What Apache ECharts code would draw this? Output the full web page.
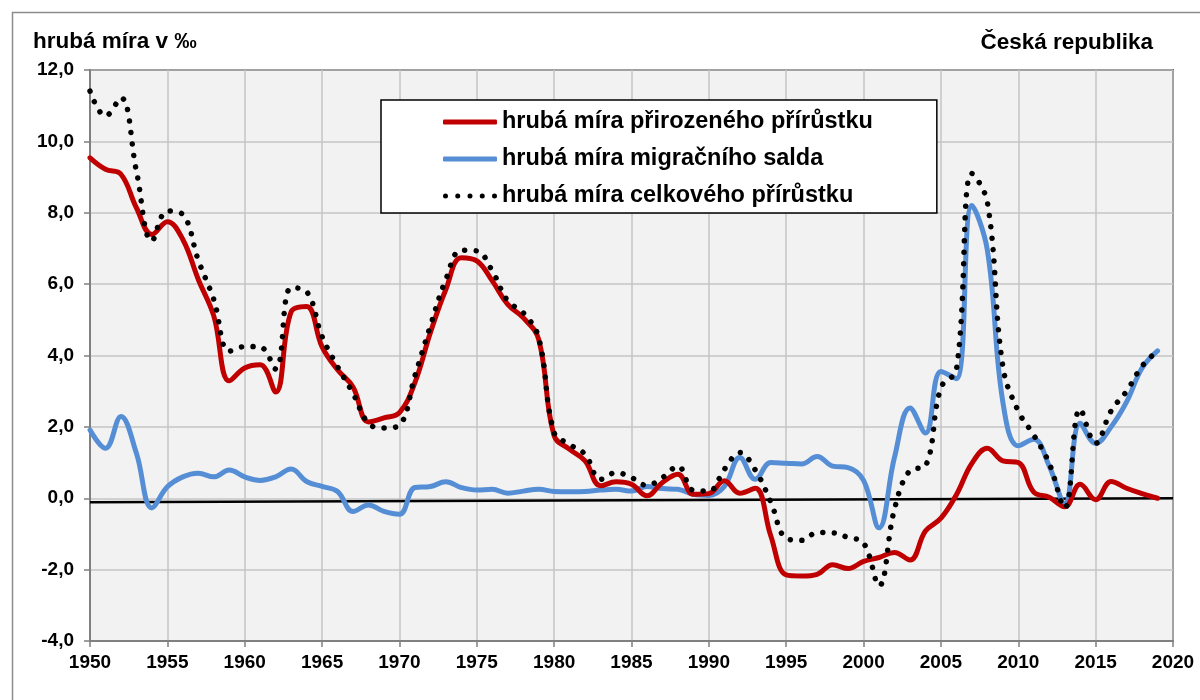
<!DOCTYPE html>
<html>
<head>
<meta charset="utf-8">
<script src="https://cdn.jsdelivr.net/npm/echarts@6/dist/echarts.min.js"></script>
<style>
  html, body { margin: 0; padding: 0; background: #fff; }
  #chart { width: 1200px; height: 700px; }
</style>
</head>
<body>
<div id="chart"></div>
<script>
// roky 1950 - 2019
var firstYear = 1950;

var natural = [
  9.54, 9.22, 9.08, 8.14, 7.39, 7.75, 7.25, 6.13, 5.11, 3.29,
  3.65, 3.74, 2.98, 5.22, 5.37, 4.24, 3.60, 3.12, 2.14, 2.25,
  2.40, 3.24, 4.64, 5.85, 6.74, 6.65, 6.09, 5.43, 5.06, 4.45,
  1.75, 1.37, 1.05, 0.35, 0.46, 0.39, 0.07, 0.44, 0.67, 0.11,
  0.13, 0.49, 0.14, 0.28, -1.05, -2.15, -2.18, -2.13, -1.86, -1.97,
  -1.77, -1.66, -1.52, -1.73, -0.92, -0.56, 0.10, 0.98, 1.40, 1.05,
  1.00, 0.17, 0.03, -0.24, 0.39, -0.04, 0.47, 0.28, 0.13, 0.00
];

var migration = [
  1.91, 1.40, 2.29, 1.26, -0.27, 0.32, 0.60, 0.70, 0.60, 0.79,
  0.60, 0.50, 0.60, 0.82, 0.47, 0.33, 0.19, -0.37, -0.19, -0.37,
  -0.45, 0.30, 0.33, 0.46, 0.30, 0.23, 0.25, 0.14, 0.20, 0.25,
  0.19, 0.18, 0.19, 0.23, 0.25, 0.20, 0.33, 0.27, 0.25, 0.11,
  0.08, 0.33, 1.14, 0.53, 1.00, 0.98, 0.96, 1.17, 0.90, 0.86,
  0.50, -0.83, 1.15, 2.53, 1.83, 3.55, 3.35, 8.20, 6.95, 2.70,
  1.47, 1.65, 0.90, -0.15, 2.10, 1.54, 2.00, 2.70, 3.65, 4.13
];

var total = [
  11.41, 10.71, 11.22, 9.17, 7.21, 8.05, 7.95, 6.67, 5.57, 4.12,
  4.25, 4.24, 3.62, 5.90, 5.79, 4.53, 3.69, 2.94, 2.10, 1.97,
  2.05, 3.43, 4.83, 6.13, 6.95, 6.93, 6.37, 5.53, 5.20, 4.50,
  1.84, 1.51, 1.23, 0.53, 0.72, 0.58, 0.36, 0.58, 0.90, 0.22,
  0.20, 0.81, 1.28, 0.79, -0.10, -1.12, -1.18, -0.96, -0.97, -1.10,
  -1.25, -2.45, -0.30, 0.78, 0.90, 3.10, 3.60, 9.10, 8.30, 3.70,
  2.44, 1.77, 0.98, -0.27, 2.50, 1.54, 2.45, 3.00, 3.70, 4.13
];

// černá čára u nuly (mírně skloněná jako v originálu)
var baseLine = [[1950, -0.11], [2020, 0]];

var seriesNames = [
  'hrubá míra přirozeného přírůstku',
  'hrubá míra migračního salda',
  'hrubá míra celkového přírůstku'
];

var font = "'Liberation Sans', Arial, sans-serif";

// ikona tečkované čáry v legendě (5 teček)
var dotsIcon = 'path://M0,2.5a2.5,2.5 0 1,0 5,0a2.5,2.5 0 1,0 -5,0' +
  'M12.25,2.5a2.5,2.5 0 1,0 5,0a2.5,2.5 0 1,0 -5,0' +
  'M24.5,2.5a2.5,2.5 0 1,0 5,0a2.5,2.5 0 1,0 -5,0' +
  'M36.75,2.5a2.5,2.5 0 1,0 5,0a2.5,2.5 0 1,0 -5,0' +
  'M49,2.5a2.5,2.5 0 1,0 5,0a2.5,2.5 0 1,0 -5,0';

function withYears(values) {
  return values.map(function (v, i) {
    return [firstYear + i, v];
  });
}

var chart = echarts.init(document.getElementById('chart'), null, { renderer: 'canvas' });

var option = {
  animation: false,
  backgroundColor: '#fff',
  textStyle: { fontFamily: font, color: '#000' },
  graphic: [
    {
      type: 'rect', silent: true, z: -10,
      shape: { x: 12.5, y: 12.5, width: 1200, height: 720 },
      style: { fill: 'none', stroke: '#8c8c8c', lineWidth: 1.5 }
    },
    {
      type: 'text', left: 33, top: 30,
      style: { text: 'hrubá míra v ‰', font: 'bold 22.5px ' + font, fill: '#000' }
    },
    {
      type: 'text', right: 47, top: 31,
      style: { text: 'Česká republika', font: 'bold 22.5px ' + font, fill: '#000' }
    }
  ],
  grid: {
    left: 90, right: 27, top: 70, bottom: 59,
    show: true,
    backgroundColor: '#f2f2f2',
    borderColor: '#000',
    borderWidth: 1.5
  },
  legend: {
    data: [
      { name: seriesNames[0], icon: 'roundRect' },
      { name: seriesNames[1], icon: 'roundRect' },
      { name: seriesNames[2], icon: dotsIcon }
    ],
    orient: 'vertical',
    left: 381, top: 100,
    padding: [10, 64, 5, 62],
    itemWidth: 54, itemHeight: 5, itemGap: 13,
    backgroundColor: '#fff',
    borderColor: '#000',
    borderWidth: 1.5,
    textStyle: {
      fontSize: 23.5, lineHeight: 23, fontWeight: 'bold', color: '#000', fontFamily: font,
      padding: [0, 0, 0, 0]
    }
  },
  xAxis: {
    type: 'value',
    min: 1950, max: 2020, interval: 5,
    axisLine: { onZero: false, lineStyle: { color: '#808080', width: 2 } },
    axisTick: { show: true, length: 6, lineStyle: { color: '#808080', width: 1.5 } },
    axisLabel: {
      margin: 12, fontSize: 19, fontWeight: 'bold', color: '#000', fontFamily: font,
      formatter: function (v) { return String(v); }
    },
    splitLine: { show: true, lineStyle: { color: '#c4c4c4', width: 1.5 } }
  },
  yAxis: {
    type: 'value',
    min: -4, max: 12, interval: 2,
    axisLine: { show: true, lineStyle: { color: '#808080', width: 2 } },
    axisTick: { show: true, length: 6, lineStyle: { color: '#808080', width: 1.5 } },
    axisLabel: {
      margin: 16, fontSize: 19, fontWeight: 'bold', color: '#000', fontFamily: font,
      formatter: function (v) { return v.toFixed(1).replace('.', ','); }
    },
    splitLine: { show: true, lineStyle: { color: '#c4c4c4', width: 1.5 } }
  },
  series: [
    {
      name: 'nula',
      type: 'line',
      data: baseLine,
      symbol: 'none',
      silent: true,
      z: 1,
      lineStyle: { color: '#000', width: 2.5 }
    },
    {
      name: seriesNames[1],
      type: 'line',
      data: withYears(migration),
      symbol: 'none',
      smooth: 0.4,
      z: 2,
      itemStyle: { color: '#558ed5' },
      lineStyle: { color: '#558ed5', width: 5, cap: 'round', join: 'round' }
    },
    {
      name: seriesNames[0],
      type: 'line',
      data: withYears(natural),
      symbol: 'none',
      smooth: 0.4,
      z: 3,
      itemStyle: { color: '#c00000' },
      lineStyle: { color: '#c00000', width: 5, cap: 'round', join: 'round' }
    },
    {
      name: seriesNames[2],
      type: 'line',
      data: withYears(total),
      symbol: 'none',
      smooth: 0.4,
      z: 4,
      itemStyle: { color: '#000' },
      lineStyle: { color: '#000', width: 5.5, type: [0.01, 11.5], cap: 'round' }
    }
  ]
};

chart.setOption(option);
</script>
</body>
</html>
